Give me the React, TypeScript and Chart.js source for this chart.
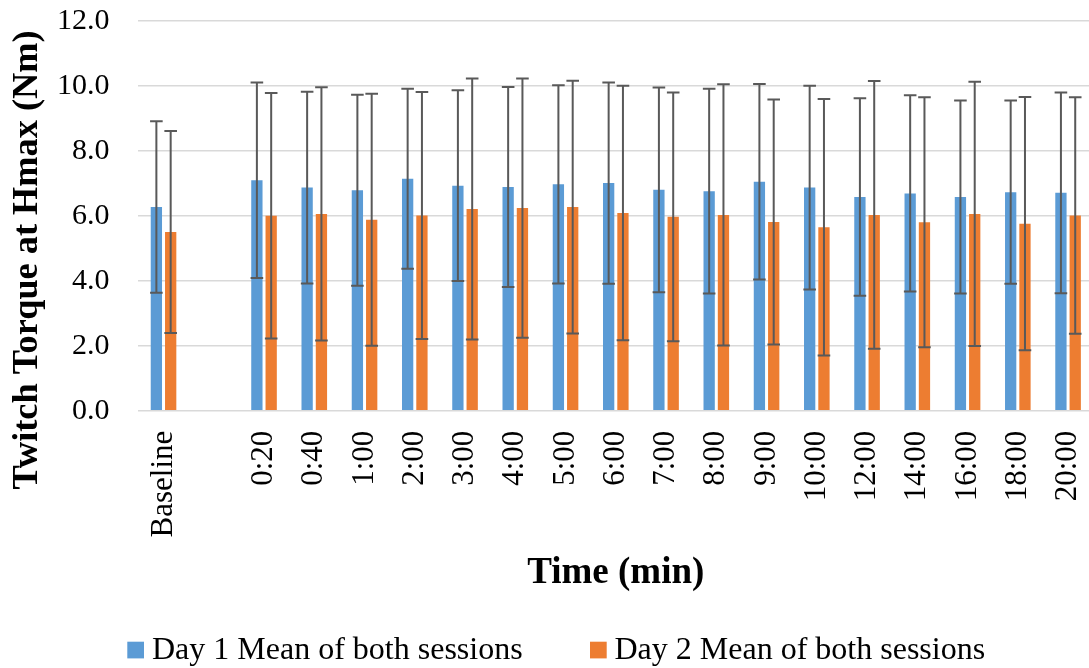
import React, { useEffect, useRef } from 'react';
import { Chart, registerables } from 'chart.js';

Chart.register(...registerables);

const categories = ['Baseline', '', '0:20', '0:40', '1:00', '2:00', '3:00', '4:00', '5:00', '6:00', '7:00', '8:00', '9:00', '10:00', '12:00', '14:00', '16:00', '18:00', '20:00'];
const day1Mean = [6.27, null, 7.10, 6.87, 6.79, 7.14, 6.93, 6.89, 6.97, 7.01, 6.80, 6.76, 7.05, 6.87, 6.58, 6.69, 6.58, 6.73, 6.71];
const day1Sd = [2.64, null, 3.01, 2.95, 2.94, 2.77, 2.94, 3.08, 3.05, 3.10, 3.15, 3.15, 3.01, 3.14, 3.04, 3.02, 2.97, 2.82, 3.09];
const day2Mean = [5.50, null, 6.00, 6.06, 5.88, 6.01, 6.21, 6.24, 6.27, 6.09, 5.97, 6.03, 5.81, 5.65, 6.03, 5.80, 6.06, 5.76, 6.01];
const day2Sd = [3.11, null, 3.78, 3.90, 3.88, 3.80, 4.02, 3.99, 3.89, 3.92, 3.83, 4.02, 3.77, 3.95, 4.12, 3.85, 4.07, 3.90, 3.64];

const seriesLabels = ['Day 1 Mean of both sessions', 'Day 2 Mean of both sessions'];
const seriesColors = ['#5B9BD5', '#ED7D31'];
const yTitle = 'Twitch Torque at Hmax (Nm)';
const xTitle = 'Time (min)';

const SERIF = "'Liberation Serif', 'Times New Roman', serif";
const CANVAS_W = 1100;
const CANVAS_H = 668;

const errorBars = {
  id: 'errorBars',
  afterDatasetsDraw(chart: any) {
    const ctx = chart.ctx;
    const y = chart.scales.y;
    const sds = [day1Sd, day2Sd];
    chart.data.datasets.forEach((ds: any, i: number) => {
      const meta = chart.getDatasetMeta(i);
      meta.data.forEach((el: any, j: number) => {
        const m = ds.data[j];
        const s = sds[i][j];
        if (m == null || s == null) return;
        const x = el.x;
        const yt = y.getPixelForValue(m + s);
        const yb = y.getPixelForValue(m - s);
        ctx.save();
        ctx.strokeStyle = '#595959';
        ctx.lineWidth = 2;
        ctx.beginPath();
        ctx.moveTo(x, yt);
        ctx.lineTo(x, yb);
        ctx.moveTo(x - 6.3, yt);
        ctx.lineTo(x + 6.3, yt);
        ctx.moveTo(x - 6.3, yb);
        ctx.lineTo(x + 6.3, yb);
        ctx.stroke();
        ctx.restore();
      });
    });
  },
};

const decorations = {
  id: 'decorations',
  beforeDraw(chart: any) {
    const ctx = chart.ctx;
    ctx.save();
    ctx.fillStyle = '#ffffff';
    ctx.fillRect(0, 0, chart.width, chart.height);
    ctx.restore();
  },
  afterDraw(chart: any) {
    const ctx = chart.ctx;
    const area = chart.chartArea;
    ctx.save();
    ctx.fillStyle = '#000000';
    // x title
    ctx.font = `bold 37px ${SERIF}`;
    ctx.textAlign = 'center';
    ctx.textBaseline = 'alphabetic';
    ctx.fillText(xTitle, (area.left + area.right) / 2, 583);
    // y title
    ctx.save();
    ctx.translate(37, 260);
    ctx.rotate(-Math.PI / 2);
    ctx.font = `bold 36.3px ${SERIF}`;
    ctx.textAlign = 'center';
    ctx.fillText(yTitle, 0, 0);
    ctx.restore();
    // legend
    const boxX = [127.3, 590];
    const textX = [152, 614.5];
    ctx.font = `32px ${SERIF}`;
    ctx.textAlign = 'left';
    for (let i = 0; i < 2; i++) {
      ctx.fillStyle = seriesColors[i];
      ctx.fillRect(boxX[i], 641.7, 16.7, 16.7);
      ctx.fillStyle = '#000000';
      ctx.fillText(chart.data.datasets[i].label, textX[i], 659);
    }
    ctx.restore();
  },
};

export default function App() {
  const ref = useRef<HTMLCanvasElement>(null);
  useEffect(() => {
    document.body.style.margin = '0';
    const chart = new Chart(ref.current as HTMLCanvasElement, {
      type: 'bar',
      data: {
        labels: categories,
        datasets: [
          {
            label: seriesLabels[0],
            data: day1Mean as any,
            backgroundColor: seriesColors[0],
            categoryPercentage: 0.569,
            barPercentage: 0.79,
          },
          {
            label: seriesLabels[1],
            data: day2Mean as any,
            backgroundColor: seriesColors[1],
            categoryPercentage: 0.569,
            barPercentage: 0.79,
          },
        ],
      },
      options: {
        responsive: false,
        animation: false,
        layout: { padding: { top: 21, right: CANVAS_W - 1093.2, left: 0, bottom: 0 } },
        plugins: {
          legend: { display: false },
          tooltip: { enabled: false },
        },
        scales: {
          x: {
            grid: {
              display: true,
              drawOnChartArea: false,
              drawTicks: true,
              tickLength: 20,
              tickColor: 'rgba(0,0,0,0)',
              color: 'rgba(0,0,0,0)',
            },
            border: { display: false },
            ticks: {
              font: { family: SERIF, size: 31, lineHeight: 0.8 },
              color: '#000000',
              minRotation: 90,
              maxRotation: 90,
              padding: 0,
              autoSkip: false,
            },
            afterFit(scale: any) {
              scale.height = CANVAS_H - 410.7;
            },
          },
          y: {
            min: 0,
            max: 12,
            grid: {
              color: '#D9D9D9',
              lineWidth: 1.5,
              drawTicks: true,
              tickLength: 29,
              tickColor: 'rgba(0,0,0,0)',
            },
            border: { display: false },
            ticks: {
              stepSize: 2,
              font: { family: SERIF, size: 30 },
              color: '#000000',
              padding: 0,
              callback: (v: any) => Number(v).toFixed(1),
            },
            afterFit(scale: any) {
              scale.width = 138.4;
            },
          },
        },
      },
      plugins: [errorBars, decorations],
    });
    return () => chart.destroy();
  }, []);
  return (
    <div style={{ width: 1089, height: 668, overflow: 'hidden', position: 'relative', background: '#fff' }}>
      <canvas ref={ref} width={CANVAS_W} height={CANVAS_H} style={{ display: 'block' }} />
    </div>
  );
}
